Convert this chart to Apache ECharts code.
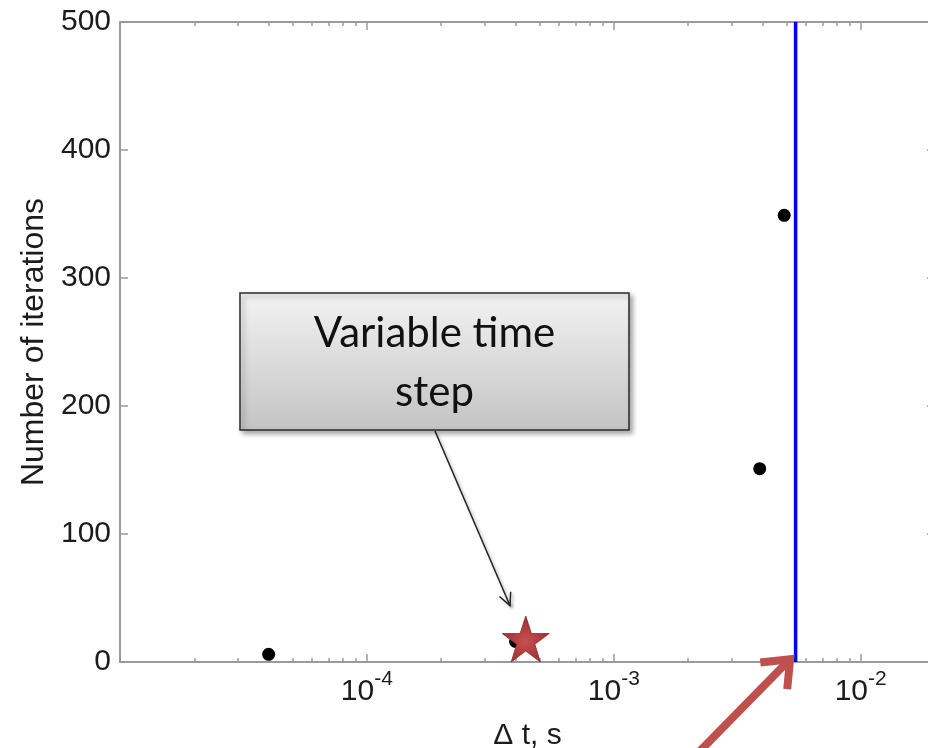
<!DOCTYPE html>
<html><head><meta charset="utf-8">
<script src="https://cdn.jsdelivr.net/npm/echarts@6/dist/echarts.min.js"></script>
<style>html,body{margin:0;padding:0;background:#fff}#c{width:928px;height:748px}</style>
</head><body><div id="c"></div>
<script>
// ---- data ----
const dotX = [4e-5, 4e-4, 3.9e-3, 4.9e-3];
const dotY = [6, 16, 151, 349];
const starX = [4.4e-4];
const starY = [18];
const limitLineX = [5.45e-3, 5.45e-3];
const limitLineY = [0, 500];
const xMajorTicks = [1e-5, 1e-4, 1e-3, 1e-2];
const xLabelTicks = [1e-4, 1e-3, 1e-2];
const xMinorTicks = [2e-5, 3e-5, 4e-5, 5e-5, 6e-5, 7e-5, 8e-5, 9e-5,
                     2e-4, 3e-4, 4e-4, 5e-4, 6e-4, 7e-4, 8e-4, 9e-4,
                     2e-3, 3e-3, 4e-3, 5e-3, 6e-3, 7e-3, 8e-3, 9e-3];
const yTickLabels = ['0', '100', '200', '300', '400', '500'];
const xTitle = 'Δ t, s';
const yTitle = 'Number of iterations';
const calloutLines = ['Variable time', 'step'];
const calloutTip = [3.8e-4, 44];   // data point the black arrow points at
const redArrowTip = [5.35e-3, 5];  // data point the red arrow points at

// ---- styles ----
const AX = '#9a9a9a';
const TXT = '#1c1c1c';
const FONT = 'Liberation Sans, Arial, sans-serif';

const chart = echarts.init(document.getElementById('c'), null, {renderer: 'canvas'});

function logAxis(pos, ticks, len, withLabels, showLine) {
  return {
    type: 'log', logBase: 10, min: 1e-5, max: 0.02, position: pos,
    splitLine: {show: false},
    axisLine: {show: showLine, onZero: false, lineStyle: {color: AX, width: 2}},
    axisTick: {show: true, inside: true, length: len, customValues: ticks, lineStyle: {color: AX, width: 1.5}},
    axisLabel: withLabels ? {
      show: true, customValues: xLabelTicks, margin: 7,
      formatter: v => '{b|10}{s|' + Math.round(Math.log10(v)) + '}',
      rich: {
        b: {fontSize: 30, lineHeight: 30, padding: [15, 0, 0, 0], fontFamily: FONT, color: TXT},
        s: {fontSize: 21, lineHeight: 21, verticalAlign: 'top', fontFamily: FONT, color: TXT}
      }
    } : {show: false},
    minorTick: {show: false}
  };
}

const xAxes = [
  Object.assign(logAxis('bottom', xMajorTicks, 8, true, true), {
    name: xTitle, nameLocation: 'middle', nameGap: 59,
    nameTextStyle: {fontSize: 30, fontFamily: FONT, color: TXT}
  }),
  logAxis('bottom', xMinorTicks, 4, false, false),
  logAxis('top', xMajorTicks, 8, false, true),
  logAxis('top', xMinorTicks, 4, false, false)
];

const yAxes = [
  {
    type: 'value', min: 0, max: 500, interval: 100, position: 'left',
    name: yTitle, nameLocation: 'middle', nameGap: 68, nameRotate: 90,
    nameTextStyle: {fontSize: 32, fontFamily: FONT, color: TXT},
    splitLine: {show: false},
    axisLine: {show: true, onZero: false, lineStyle: {color: AX, width: 2}},
    axisTick: {show: true, inside: true, length: 8, lineStyle: {color: AX, width: 1.5}},
    axisLabel: {show: true, margin: 9, fontSize: 30, fontFamily: FONT, color: TXT,
      formatter: v => yTickLabels[Math.round(v / 100)]}
  },
  {
    type: 'value', min: 0, max: 500, interval: 100, position: 'right',
    splitLine: {show: false},
    axisLine: {show: true, onZero: false, lineStyle: {color: AX, width: 2}},
    axisTick: {show: true, inside: true, length: 8, lineStyle: {color: AX, width: 1.5}},
    axisLabel: {show: false}
  }
];

const starPath = 'path://M50,0 L61.8,35.1 L98.9,35.1 L69,56.7 L80.3,91.9 L50,70 L19.7,91.9 L31,56.7 L1.1,35.1 L38.2,35.1 Z';

chart.setOption({
  animation: false,
  grid: {left: 120, top: 22, width: 815, height: 640, containLabel: false, outerBoundsMode: 'none'},
  xAxis: xAxes,
  yAxis: yAxes,
  series: [
    {
      type: 'line', xAxisIndex: 0, yAxisIndex: 0, symbol: 'none',
      data: limitLineX.map((x, i) => [x, limitLineY[i]]),
      lineStyle: {color: '#0000ff', width: 3.5}, z: 2
    },
    {
      type: 'scatter', xAxisIndex: 0, yAxisIndex: 0, symbol: 'circle', symbolSize: 13,
      data: dotX.map((x, i) => [x, dotY[i]]),
      itemStyle: {color: '#000', opacity: 1}, z: 3
    },
    {
      type: 'scatter', xAxisIndex: 0, yAxisIndex: 0, symbol: starPath, symbolSize: [47, 46],
      data: starX.map((x, i) => [x, starY[i]]),
      itemStyle: {
        color: {type: 'radial', x: 0.5, y: 0.55, r: 0.5,
          colorStops: [{offset: 0, color: '#c85050'}, {offset: 1, color: '#9c3232'}]},
        borderColor: '#8c2a2a', borderWidth: 0.8, opacity: 1
      }, z: 4
    }
  ]
});

// ---- annotations, anchored to data points via the chart's own scales ----
function px(p) { return chart.convertToPixel({xAxisIndex: 0, yAxisIndex: 0}, p); }
function rot(v, a) { const c = Math.cos(a), s = Math.sin(a); return [v[0] * c - v[1] * s, v[0] * s + v[1] * c]; }

const box = {x: 240, y: 293, w: 389, h: 137};
const bTip = px(calloutTip);
const bTail = [435, box.y + box.h + 1];
let d = [bTip[0] - bTail[0], bTip[1] - bTail[1]];
let L = Math.hypot(d[0], d[1]); d = [d[0] / L, d[1] / L];
const bw1 = rot([-d[0], -d[1]], 0.45), bw2 = rot([-d[0], -d[1]], -0.45);

const rTip = px(redArrowTip);
const rTail = [rTip[0] - 110, rTip[1] + 112];
let rd = [rTip[0] - rTail[0], rTip[1] - rTail[1]];
let rL = Math.hypot(rd[0], rd[1]); rd = [rd[0] / rL, rd[1] / rL];
const rV = [rTip[0] - rd[0] * 5, rTip[1] - rd[1] * 5];
const rw1 = rot([-rd[0], -rd[1]], 0.68), rw2 = rot([-rd[0], -rd[1]], -0.68);

chart.setOption({
  graphic: [
    {
      type: 'rect', shape: {x: box.x, y: box.y, width: box.w, height: box.h}, z: 100,
      style: {
        fill: {type: 'linear', x: 0, y: 0, x2: 0, y2: 1,
          colorStops: [{offset: 0, color: '#f3f3f3'}, {offset: 1, color: '#c3c3c3'}]},
        stroke: '#2b2b2b', lineWidth: 1.5,
        shadowBlur: 5, shadowOffsetX: 3, shadowOffsetY: 3, shadowColor: 'rgba(0,0,0,0.35)'
      }
    },
    {
      type: 'text', z: 101,
      style: {text: calloutLines[0], x: box.x + box.w / 2, y: 333, align: 'center', verticalAlign: 'middle',
        font: '42px Lato, sans-serif', fill: '#111'}
    },
    {
      type: 'text', z: 101,
      style: {text: calloutLines[1], x: box.x + box.w / 2, y: 392, align: 'center', verticalAlign: 'middle',
        font: '42px Lato, sans-serif', fill: '#111'}
    },
    {
      type: 'polyline', z: 99,
      shape: {points: [bTail, bTip]},
      style: {stroke: '#222', lineWidth: 1.5, fill: null,
        shadowBlur: 3, shadowOffsetX: 2, shadowOffsetY: 2, shadowColor: 'rgba(0,0,0,0.3)'}
    },
    {
      type: 'polyline', z: 99,
      shape: {points: [[bTip[0] + bw1[0] * 14, bTip[1] + bw1[1] * 14], bTip, [bTip[0] + bw2[0] * 14, bTip[1] + bw2[1] * 14]]},
      style: {stroke: '#222', lineWidth: 1.5, fill: null,
        shadowBlur: 3, shadowOffsetX: 2, shadowOffsetY: 2, shadowColor: 'rgba(0,0,0,0.3)'}
    },
    {
      type: 'polyline', z: 99,
      shape: {points: [rTail, [rV[0] - rd[0] * 3, rV[1] - rd[1] * 3]]},
      style: {stroke: '#c0504d', lineWidth: 8, fill: null}
    },
    {
      type: 'polyline', z: 99,
      shape: {points: [[rV[0] + rw1[0] * 30, rV[1] + rw1[1] * 30], rV, [rV[0] + rw2[0] * 30, rV[1] + rw2[1] * 30]]},
      style: {stroke: '#c0504d', lineWidth: 8, fill: null, lineJoin: 'miter'}
    }
  ]
});
</script>
</body></html>
